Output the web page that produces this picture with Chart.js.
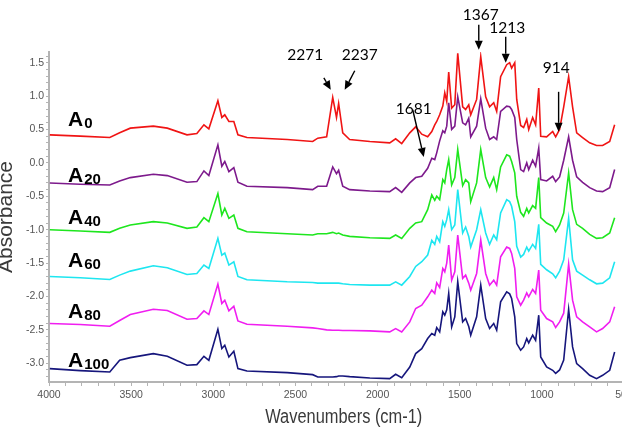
<!DOCTYPE html>
<html><head><meta charset="utf-8">
<script src="https://cdn.jsdelivr.net/npm/chart.js@4.4.1/dist/chart.umd.min.js"></script>
<style>
html,body{margin:0;padding:0;background:#fff;overflow:hidden;width:622px;height:429px;}
canvas{display:block;}
</style></head><body>
<canvas id="c" width="640" height="429" style="width:640px;height:429px"></canvas>
<script>
// ---- data (wavenumber in cm-1, absorbance) ----
const wavenumbers = [3995,3810,3630,3570,3505,3365,3280,3160,3100,3057,3027,2972,2948,2930,2905,2875,2850,2795,2550,2395,2364,2310,2273,2250,2237,2212,2170,2047,1926,1890,1853,1804,1768,1731,1695,1670,1652,1640,1622,1603,1591,1579,1567,1549,1530,1512,1482,1464,1445,1433,1397,1372,1342,1318,1293,1275,1251,1214,1196,1184,1165,1153,1129,1111,1092,1080,1056,1038,1019,1007,971,934,916,892,867,837,813,788,752,709,667,630,587,557];

const A0 = [0.42,0.40,0.38,0.45,0.52,0.55,0.52,0.42,0.44,0.57,
 0.51,0.93,0.68,0.72,0.62,0.62,0.42,0.38,0.35,0.32,
 0.37,0.39,0.98,0.68,0.89,0.45,0.35,0.32,0.30,0.36,
 0.29,0.45,0.54,0.43,0.39,0.47,0.57,0.62,0.72,0.85,
 1.05,0.92,1.36,0.82,0.87,1.64,0.84,0.80,0.87,0.72,
 0.95,1.59,0.99,0.84,0.90,0.77,1.29,1.47,1.50,1.42,
 1.50,0.95,0.56,0.53,0.65,0.50,0.68,0.57,1.12,0.40,
 0.39,0.47,0.39,0.50,0.84,1.29,0.84,0.45,0.38,0.30,
 0.26,0.26,0.32,0.57];

const A20 = [-0.30,-0.32,-0.33,-0.27,-0.22,-0.17,-0.19,-0.29,-0.28,-0.12,
 -0.19,0.27,-0.05,0.02,-0.13,-0.07,-0.29,-0.35,-0.37,-0.40,
 -0.35,-0.35,-0.06,-0.16,-0.11,-0.35,-0.40,-0.42,-0.43,-0.37,
 -0.44,-0.30,-0.22,-0.20,-0.08,0.07,0.05,0.15,0.33,0.48,
 0.45,0.55,0.90,0.50,0.55,0.99,0.60,0.57,0.67,0.39,
 0.55,0.96,0.52,0.35,0.39,0.35,0.77,0.85,0.84,0.80,
 0.68,0.35,-0.10,-0.13,0.00,-0.10,0.04,-0.05,0.22,-0.25,
 -0.27,-0.20,-0.28,-0.21,0.04,0.39,0.04,-0.21,-0.29,-0.37,
 -0.42,-0.43,-0.37,-0.10];

const A40 = [-1.00,-1.02,-1.04,-0.98,-0.93,-0.88,-0.90,-0.98,-0.96,-0.82,
 -0.88,-0.46,-0.78,-0.68,-0.83,-0.78,-0.98,-1.03,-1.06,-1.08,
 -1.06,-1.06,-1.04,-1.06,-1.05,-1.08,-1.10,-1.12,-1.13,-1.08,
 -1.13,-0.98,-0.90,-0.88,-0.70,-0.48,-0.56,-0.50,-0.55,-0.25,
 -0.30,-0.10,0.05,-0.33,-0.22,0.20,-0.34,-0.25,-0.30,-0.58,
 -0.30,0.20,-0.22,-0.36,-0.22,-0.40,-0.06,0.12,0.10,0.02,
 -0.15,-0.50,-0.74,-0.80,-0.68,-0.75,-0.64,-0.68,-0.22,-0.82,
 -0.90,-0.95,-1.03,-0.93,-0.75,-0.15,-0.70,-0.92,-0.98,-1.07,
 -1.13,-1.12,-1.05,-0.82];

const A60 = [-1.70,-1.72,-1.745,-1.68,-1.62,-1.54,-1.57,-1.67,-1.655,-1.53,
 -1.58,-1.13,-1.38,-1.35,-1.53,-1.48,-1.70,-1.75,-1.78,-1.79,
 -1.80,-1.80,-1.80,-1.80,-1.80,-1.81,-1.82,-1.83,-1.83,-1.78,
 -1.83,-1.70,-1.55,-1.48,-1.38,-1.16,-1.22,-1.10,-1.18,-0.88,
 -0.95,-0.85,-0.70,-1.00,-0.93,-0.40,-1.05,-0.96,-1.10,-1.26,
 -1.00,-0.70,-1.05,-1.22,-1.08,-1.15,-0.75,-0.55,-0.58,-0.65,
 -0.88,-1.25,-1.41,-1.37,-1.26,-1.32,-1.22,-1.28,-0.92,-1.52,
 -1.60,-1.66,-1.72,-1.62,-1.45,-0.83,-1.45,-1.62,-1.68,-1.75,
 -1.81,-1.80,-1.72,-1.48];

const A80 = [-2.405,-2.42,-2.445,-2.36,-2.27,-2.19,-2.21,-2.34,-2.33,-2.215,
 -2.27,-1.815,-2.105,-2.055,-2.215,-2.145,-2.365,-2.415,-2.445,-2.47,
 -2.48,-2.50,-2.505,-2.505,-2.505,-2.51,-2.51,-2.515,-2.53,-2.48,
 -2.53,-2.38,-2.18,-2.13,-2.005,-1.905,-1.955,-1.795,-1.865,-1.58,
 -1.63,-1.50,-1.23,-1.755,-1.63,-1.08,-1.73,-1.68,-1.80,-1.905,
 -1.655,-1.155,-1.655,-1.83,-1.755,-1.83,-1.405,-1.26,-1.28,-1.355,
 -1.58,-2.005,-2.13,-2.055,-1.945,-2.005,-1.895,-1.955,-1.605,-2.205,
 -2.33,-2.38,-2.465,-2.38,-2.25,-1.515,-2.055,-2.305,-2.38,-2.455,
 -2.53,-2.48,-2.38,-2.155];

const A100 = [-3.08,-3.11,-3.13,-2.955,-2.915,-2.855,-2.895,-3.03,-3.02,-2.895,
 -2.955,-2.49,-2.78,-2.73,-2.905,-2.82,-3.08,-3.115,-3.14,-3.17,
 -3.205,-3.205,-3.205,-3.20,-3.19,-3.19,-3.20,-3.22,-3.23,-3.165,
 -3.215,-3.055,-2.855,-2.78,-2.63,-2.555,-2.58,-2.465,-2.53,-2.23,
 -2.28,-2.20,-1.955,-2.455,-2.305,-1.78,-2.38,-2.33,-2.45,-2.58,
 -2.305,-1.83,-2.33,-2.48,-2.405,-2.505,-2.08,-1.93,-1.96,-2.03,
 -2.305,-2.705,-2.805,-2.755,-2.63,-2.695,-2.58,-2.655,-2.28,-2.905,
 -3.055,-3.105,-3.15,-3.10,-2.95,-2.195,-2.755,-3.005,-3.08,-3.18,
 -3.23,-3.18,-3.105,-2.83];

const seriesSubscripts = ['0','20','40','60','80','100'];
const seriesValues = [A0, A20, A40, A60, A80, A100];
const peakLabels = ['2271','2237','1681','1367','1213','914'];
const xTitle = 'Wavenumbers (cm-1)';
const yTitle = 'Absorbance';

// ---- styling / placement (not data) ----
const colors = ['#f01414','#7d1a8c','#1ee61e','#1ee6f0','#f01ef0','#16167c'];
const labelWn = 3884;
const labelAbs = [0.555, -0.28, -0.915, -1.56, -2.32, -3.06];
const peakText = [[2440,1.544],[2108,1.544],[1780,0.735],[1372,2.144],[1211,1.949],[913,1.349]];
const peakArrow = [[2327,1.274,2285,1.094],[2139,1.379,2200,1.094],[1786,0.795,1719,0.09],
                   [1384,2.069,1384,1.694],[1220,1.889,1220,1.499],[898,1.064,898,0.465]];
const xTitleWn = 2206;

const narrow = "'Liberation Sans Narrow','Arial Narrow','Liberation Sans',Arial,sans-serif";
const sans = "'Liberation Sans',Arial,sans-serif";

const datasets = seriesValues.map((vals, i) => ({
  label: 'A' + seriesSubscripts[i],
  data: wavenumbers.map((w, k) => ({x: w, y: vals[k]})),
  borderColor: colors[i],
  borderWidth: 1.6,
  pointRadius: 0,
  tension: 0,
  fill: false
}));

function arrow(ctx, x1, y1, x2, y2) {
  const ang = Math.atan2(y2 - y1, x2 - x1);
  const hl = 9, hw = 4;
  const bx = x2 - hl * Math.cos(ang), by = y2 - hl * Math.sin(ang);
  ctx.beginPath();
  ctx.moveTo(x1, y1); ctx.lineTo(bx, by); ctx.stroke();
  ctx.beginPath();
  ctx.moveTo(x2, y2);
  ctx.lineTo(bx + hw * Math.sin(ang), by - hw * Math.cos(ang));
  ctx.lineTo(bx - hw * Math.sin(ang), by + hw * Math.cos(ang));
  ctx.closePath(); ctx.fill();
}

const annotate = {
  id: 'annotate',
  afterDatasetsDraw(chart) {
    const {ctx, scales: {x, y}} = chart;
    ctx.save();
    ctx.fillStyle = '#000';
    ctx.strokeStyle = '#000';
    ctx.textBaseline = 'alphabetic';
    seriesSubscripts.forEach((sub, i) => {
      const px = x.getPixelForValue(labelWn);
      const py = y.getPixelForValue(labelAbs[i]);
      ctx.textAlign = 'left';
      ctx.font = 'bold 21px ' + sans;
      ctx.fillText('A', px, py);
      const w = ctx.measureText('A').width;
      ctx.font = 'bold 15px ' + sans;
      ctx.fillText(sub, px + w + 1, py + 2);
    });
    ctx.font = "15.5px Lato,'Open Sans',sans-serif";
    ctx.textAlign = 'center';
    ctx.lineWidth = 1.4;
    peakLabels.forEach((t, i) => {
      ctx.fillText(t, x.getPixelForValue(peakText[i][0]), y.getPixelForValue(peakText[i][1]));
      const a = peakArrow[i];
      arrow(ctx, x.getPixelForValue(a[0]), y.getPixelForValue(a[1]),
                 x.getPixelForValue(a[2]), y.getPixelForValue(a[3]));
    });
    // x-axis title, condensed like the original
    ctx.fillStyle = '#3a3a3a';
    ctx.font = '20px ' + sans;
    ctx.translate(x.getPixelForValue(xTitleWn), x.bottom - 6);
    ctx.scale(0.82, 1);
    ctx.fillText(xTitle, 0, 0);
    ctx.restore();
  }
};

new Chart(document.getElementById('c'), {
  type: 'line',
  data: {datasets},
  plugins: [annotate],
  options: {
    responsive: false,
    animation: false,
    devicePixelRatio: 1,
    layout: {padding: {left: 0, right: 16, top: 52, bottom: 0}},
    plugins: {legend: {display: false}, tooltip: {enabled: false}},
    scales: {
      x: {
        type: 'linear', reverse: true, min: 500, max: 4000,
        border: {display: true, color: '#b4b4b4', width: 2},
        grid: {drawOnChartArea: false, drawTicks: true, tickLength: 4, color: '#b4b4b4'},
        ticks: {stepSize: 100, autoSkip: false, maxRotation: 0, includeBounds: false, padding: 3,
                color: '#555', font: {family: narrow, size: 10.5},
                callback: v => (Math.round(v) % 500 === 0 ? String(Math.round(v)) : '')},
        title: {display: false},
        afterFit(s) { s.height = 47; }
      },
      y: {
        type: 'linear', min: -3.28, max: 1.66,
        border: {display: true, color: '#b4b4b4', width: 2},
        grid: {drawOnChartArea: false, drawTicks: true, tickLength: 3, color: '#b4b4b4'},
        ticks: {stepSize: 0.1, autoSkip: false, includeBounds: false, padding: 2,
                color: '#555', font: {family: narrow, size: 10.5},
                callback: v => (Math.abs(v * 2 - Math.round(v * 2)) < 1e-6 ? (Math.round(v * 2) / 2).toFixed(1) : '')},
        title: {display: true, text: yTitle, color: '#3a3a3a',
                font: {family: sans, size: 21, lineHeight: 1}, padding: {top: -4, bottom: 0}},
        afterFit(s) { s.width = 49; }
      }
    }
  }
});
</script>
</body></html>
